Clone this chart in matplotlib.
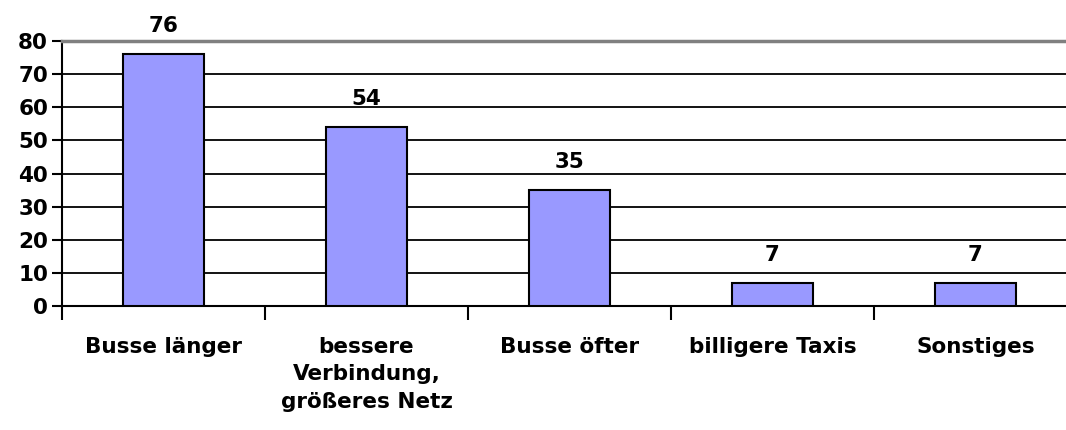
import numpy as np
from matplotlib import pyplot as plt

categories = ["Busse länger", "bessere\nVerbindung,\ngrößeres Netz", "Busse öfter",
              "billigere Taxis", "Sonstiges"]
values = [76, 54, 35, 7, 7]

plt.rcParams['font.family'] = ['DejaVu Sans']
plt.rcParams['font.weight'] = 'bold'
FS = 15.5

fig = plt.figure(figsize=(10.66, 4.30), dpi=100)
# plot area runs past the right edge of the picture, as in the original
ax = fig.add_axes([62/1066, 124/430, 1015/1066, 265/430])

x = np.arange(len(categories))
bars = ax.bar(x, values, width=0.4, color='#9999FF', edgecolor='black', linewidth=1.5, zorder=3)

for xi, v in zip(x, values):
    ax.annotate(str(v), (xi, v), xytext=(0, 13), textcoords='offset points',
                ha='center', va='bottom', fontsize=FS, fontweight='bold')

ax.set_xlim(-0.5, len(categories) - 0.5)
ax.set_ylim(0, 80)
ax.set_yticks(np.arange(0, 81, 10))
ax.yaxis.grid(True, color='black', linewidth=1.3, zorder=0)
ax.set_axisbelow(True)

# ticks between categories, labels centred under bars
ax.set_xticks(np.arange(-0.5, len(categories), 1.0))
ax.set_xticklabels([])
ax.set_xticks(x, minor=True)
ax.set_xticklabels(categories, minor=True, fontsize=FS, fontweight='bold', linespacing=1.48)
ax.tick_params(axis='x', which='minor', length=0, pad=22)
ax.tick_params(axis='x', which='major', length=10, width=1.5, direction='out')
ax.tick_params(axis='y', length=7, width=1.5, direction='out', labelsize=FS, pad=3)
for lbl in ax.get_yticklabels():
    lbl.set_fontweight('bold')

ax.spines['right'].set_visible(False)
ax.spines['top'].set_color('#808080')
ax.spines['top'].set_linewidth(2.5)
ax.spines['left'].set_linewidth(1.5)
ax.spines['bottom'].set_linewidth(1.5)

fig.savefig('out.png', dpi=100)
